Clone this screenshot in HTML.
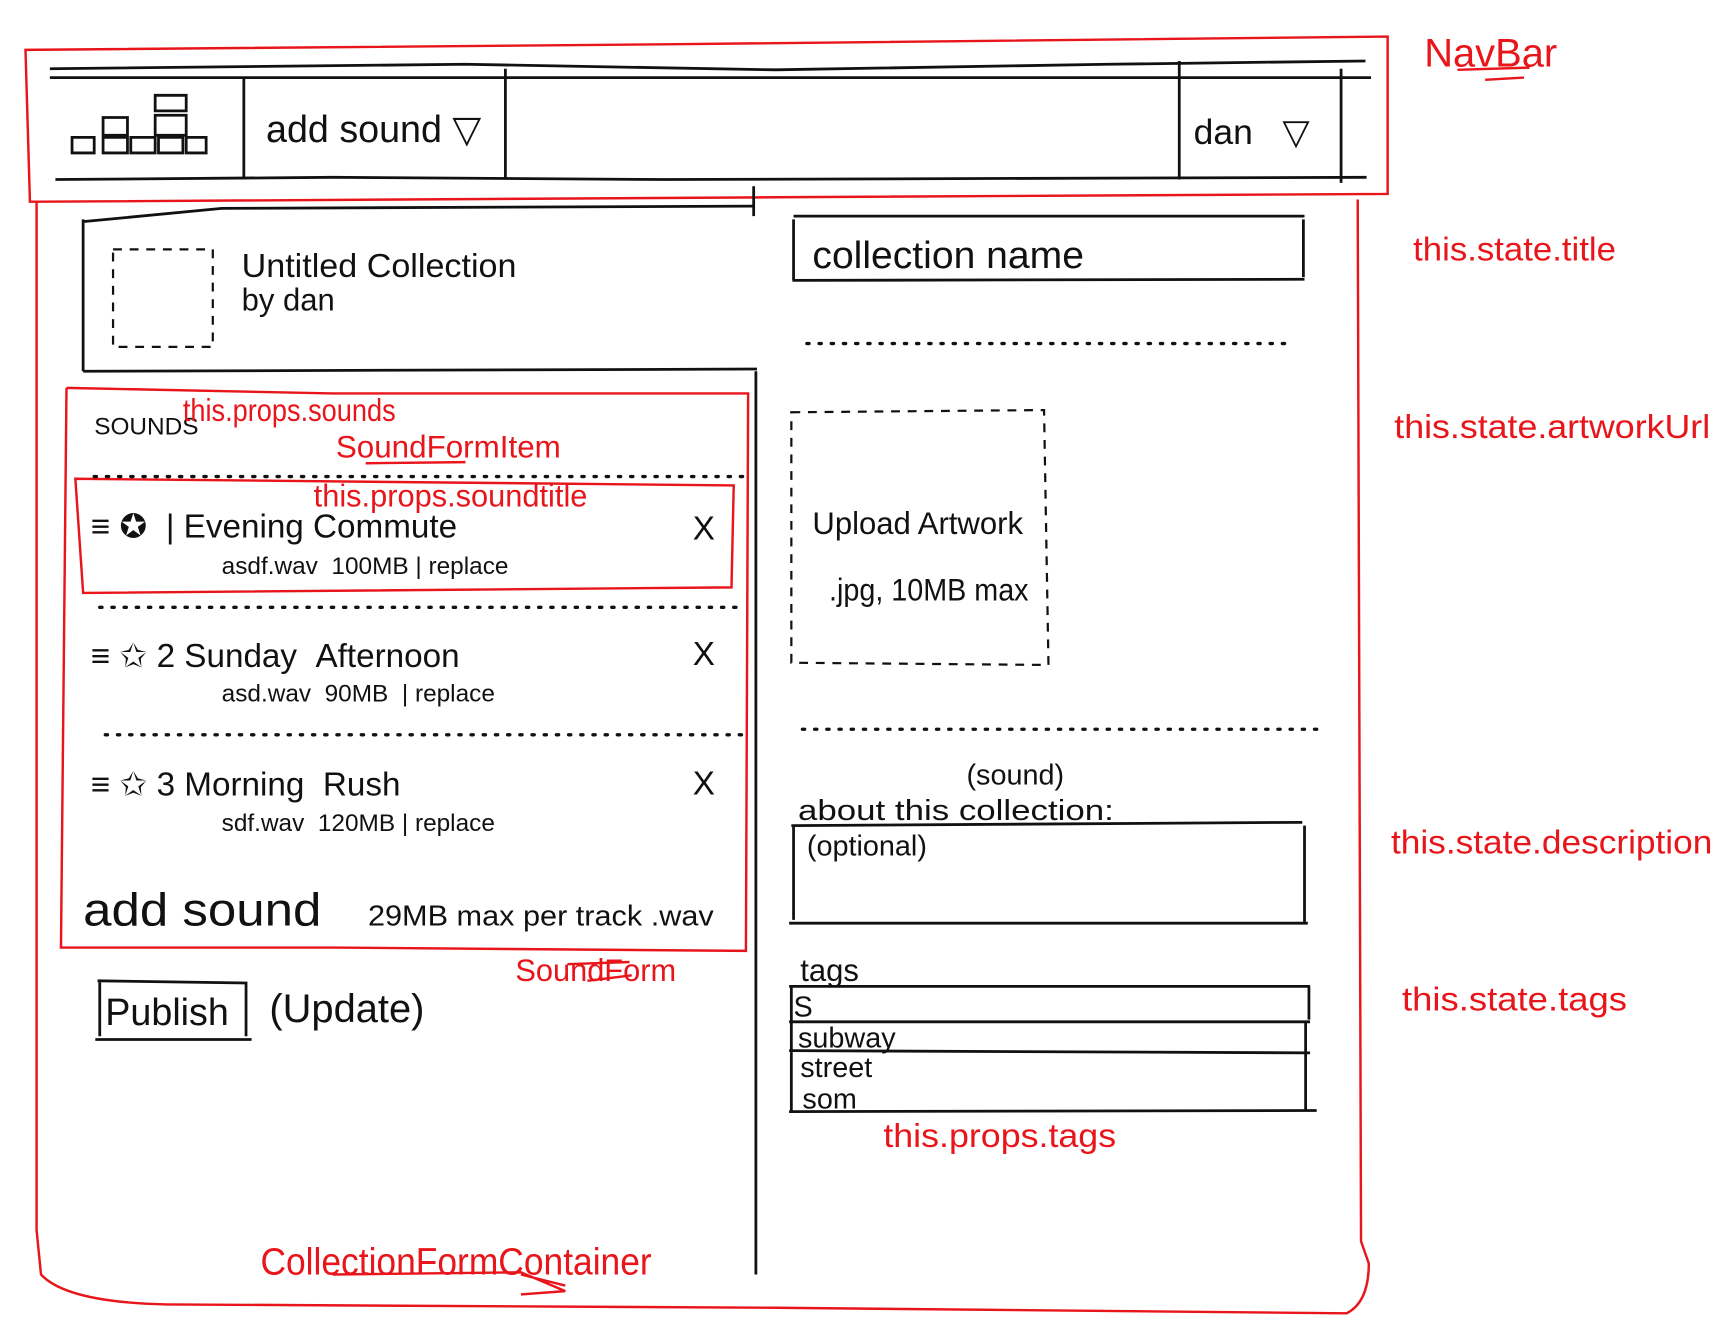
<!DOCTYPE html>
<html><head><meta charset="utf-8"><style>
html,body{margin:0;padding:0;background:#fff;}
svg{display:block}
text{font-family:"Liberation Sans Narrow","Liberation Sans",sans-serif;}
.k{fill:#111}
.r{fill:#e8151b}
</style></head><body>
<svg width="1729" height="1341" viewBox="0 0 1560 1210" preserveAspectRatio="none" xmlns="http://www.w3.org/2000/svg">
<rect width="1560" height="1210" fill="#fff"/>
<g fill="none" stroke="#e8151b" stroke-width="2.2">
<!-- navbar -->
<path d="M23,45 L600,40 L1252,33 L1252,175 L700,178 L35,182 L27,182 Z"/>
<!-- container -->
<path d="M33,182 L33,1110 L37,1150 Q60,1175 150,1177 L700,1180 L1215,1185 Q1235,1175 1235,1140 L1228,1120 L1225,180"/>
<!-- sounds -->
<path d="M60,350 L300,355 L675,355 L673,858 L300,855 L55,855 L60,350"/>
<!-- item -->
<path d="M68,432 L662,438 L660,530 L75,535 Z"/>
<path d="M330,418 L420,417 M1315,63 L1380,61 M1340,72 L1375,70 M512,870 L568,868 M530,885 L570,880 M300,1150 L470,1148 L510,1165 L470,1168 M470,1150 L510,1160"/>
</g>
<g fill="none" stroke="#111" stroke-width="2.5">
<path d="M45,62 L420,58 L700,63 L1000,58 L1232,55"/>
<path d="M45,70 L1237,70"/>
<path d="M50,162 L300,160 L600,162 L1233,160"/>
<path d="M220,70 V162 M456,62 V162 M1064,55 V162 M1210,62 V165"/>
<path d="M680,168 V195 M682,335 V1150"/>
<path d="M75,200 L200,188 L680,186 M75,198 V335 M75,335 L683,333"/>
<path d="M716,195 L1177,195 M716,198 V253 M1176,198 V250 M715,253 L1177,252"/>
<path d="M714,745 L1175,742 M716,745 V830 M1177,745 V832 M712,833 L1180,833"/>
<path d="M712,890 L1182,890 M714,890 V1003 M1181,890 V920 M712,922 L1182,922 M712,948 L1182,950 M1178,922 V1003 M712,1003 L1188,1002"/>
<path d="M88,885 L222,887 L222,935 M90,885 V935 M86,938 L227,938"/>
<!-- logo -->
<path d="M140,86 h28 v14 h-28 z M140,104 h28 v18 h-28 z M93,106 h22 v16 h-22 z M65,124 h20 v14 h-20 z M93,124 h22 v14 h-22 z M118,124 h22 v14 h-22 z M143,124 h22 v14 h-22 z M168,124 h18 v14 h-18 z"/>
</g>
<g fill="none" stroke="#111" stroke-width="2" stroke-dasharray="8 7">
<rect x="102" y="225" width="90" height="88"/>
<path d="M714,372 L942,370 L946,600 L714,598 Z"/>
</g>
<g fill="none" stroke="#111" stroke-width="3" stroke-dasharray="2 9" stroke-linecap="round">
<path d="M728,310 H1168 M724,658 H1190 M85,430 H675 M90,548 H670 M95,663 H670"/>
</g>
<g class="k">
<text x="240" y="128" font-size="34">add sound ▽</text>
<text x="1077" y="130" font-size="32">dan &#160; ▽</text>
<text x="218" y="250" font-size="30" textLength="248" lengthAdjust="spacingAndGlyphs">Untitled Collection</text>
<text x="218" y="280" font-size="28">by dan</text>
<text x="733" y="242" font-size="34" textLength="245" lengthAdjust="spacingAndGlyphs">collection name</text>
<text x="733" y="482" font-size="28" textLength="190" lengthAdjust="spacingAndGlyphs">Upload Artwork</text>
<text x="748" y="542" font-size="28" textLength="180" lengthAdjust="spacingAndGlyphs">.jpg, 10MB max</text>
<text x="872" y="708" font-size="26">(sound)</text>
<text x="720" y="740" font-size="26" textLength="285" lengthAdjust="spacingAndGlyphs">about this collection:</text>
<text x="728" y="772" font-size="26">(optional)</text>
<text x="722" y="885" font-size="28">tags</text>
<text x="716" y="917" font-size="26">S</text>
<text x="720" y="945" font-size="26">subway</text>
<text x="722" y="972" font-size="26">street</text>
<text x="724" y="1000" font-size="26">som</text>
<text x="85" y="392" font-size="22">SOUNDS</text>
<text x="82" y="485" font-size="30">≡ ✪ &#160;| Evening Commute</text>
<text x="625" y="487" font-size="30">X</text>
<text x="200" y="518" font-size="22">asdf.wav &#160;100MB | replace</text>
<text x="82" y="602" font-size="30">≡ ✩ 2 Sunday &#160;Afternoon</text>
<text x="625" y="600" font-size="30">X</text>
<text x="200" y="633" font-size="22">asd.wav &#160;90MB &#160;| replace</text>
<text x="82" y="718" font-size="30">≡ ✩ 3 Morning &#160;Rush</text>
<text x="625" y="717" font-size="30">X</text>
<text x="200" y="750" font-size="22">sdf.wav &#160;120MB | replace</text>
<text x="75" y="835" font-size="42" textLength="215" lengthAdjust="spacingAndGlyphs">add sound</text>
<text x="332" y="835" font-size="26" textLength="312" lengthAdjust="spacingAndGlyphs">29MB max per track .wav</text>
<text x="95" y="925" font-size="34">Publish</text>
<text x="243" y="922" font-size="36">(Update)</text>
</g>
<g class="r">
<text x="1285" y="60" font-size="36">NavBar</text>
<text x="1275" y="235" font-size="30" textLength="183" lengthAdjust="spacingAndGlyphs">this.state.title</text>
<text x="1258" y="395" font-size="30" textLength="285" lengthAdjust="spacingAndGlyphs">this.state.artworkUrl</text>
<text x="1255" y="770" font-size="30" textLength="290" lengthAdjust="spacingAndGlyphs">this.state.description</text>
<text x="1265" y="912" font-size="30" textLength="203" lengthAdjust="spacingAndGlyphs">this.state.tags</text>
<text x="797" y="1035" font-size="30" textLength="210" lengthAdjust="spacingAndGlyphs">this.props.tags</text>
<text x="165" y="380" font-size="28" textLength="192" lengthAdjust="spacingAndGlyphs">this.props.sounds</text>
<text x="303" y="413" font-size="28" textLength="203" lengthAdjust="spacingAndGlyphs">SoundFormItem</text>
<text x="283" y="457" font-size="28" textLength="247" lengthAdjust="spacingAndGlyphs">this.props.soundtitle</text>
<text x="465" y="885" font-size="28" textLength="145" lengthAdjust="spacingAndGlyphs">SoundForm</text>
<text x="235" y="1150" font-size="34" textLength="353" lengthAdjust="spacingAndGlyphs">CollectionFormContainer</text>
</g>
</svg>
</body></html>
